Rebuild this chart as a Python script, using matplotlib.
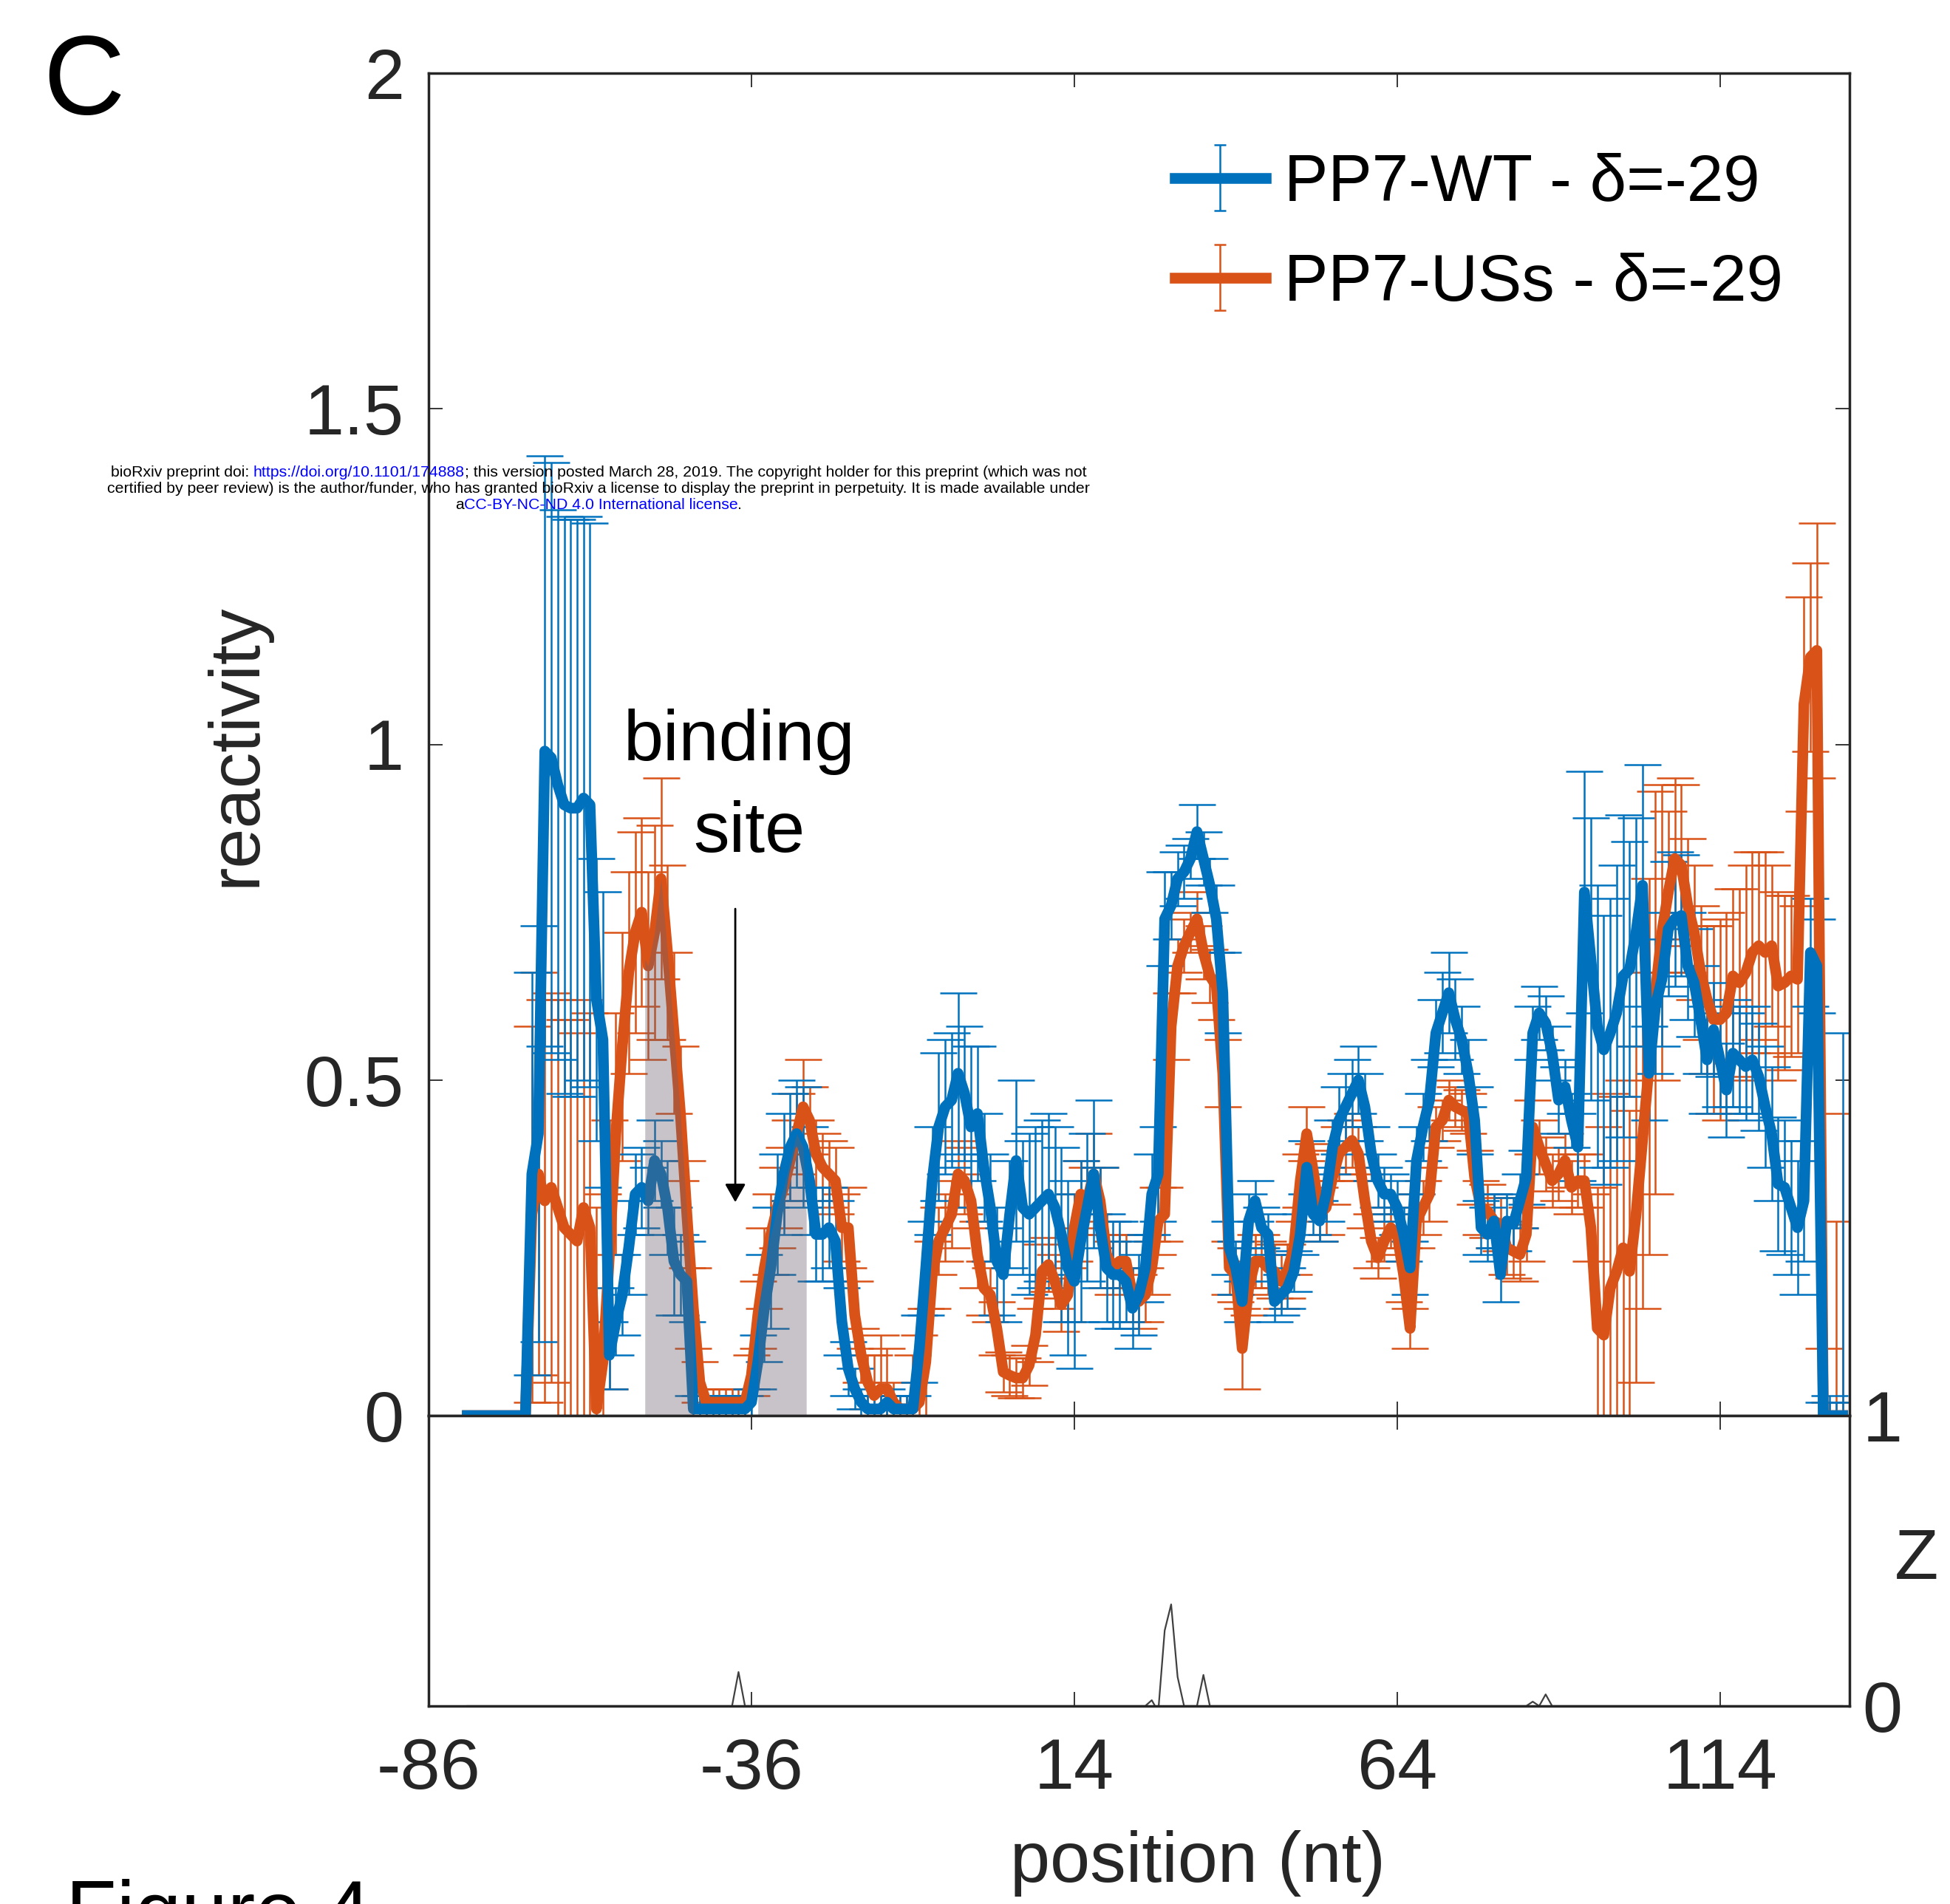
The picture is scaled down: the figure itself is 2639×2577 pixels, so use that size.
import numpy as np
import matplotlib
matplotlib.use("Agg")
import matplotlib.pyplot as plt
from matplotlib.container import ErrorbarContainer
from matplotlib.lines import Line2D
from matplotlib.collections import LineCollection

plt.rcParams['font.family'] = ['Liberation Sans', 'DejaVu Sans']
plt.rcParams['axes.unicode_minus'] = False

# nucleotide positions (-80 .. 133)
position = np.arange(-80, 134)

wt_react = [
    0, 0, 0, 0, 0, 0, 0, 0, 0, 0,
    0.36, 0.42, 0.99, 0.98, 0.94, 0.91, 0.905, 0.905, 0.92, 0.91,
    0.62, 0.56, 0.09, 0.14, 0.18, 0.25, 0.33, 0.34, 0.32, 0.38,
    0.36, 0.31, 0.23, 0.21, 0.20, 0.01, 0.01, 0.01, 0.01, 0.01,
    0.01, 0.01, 0.01, 0.01, 0.02, 0.08, 0.16, 0.22, 0.30, 0.36,
    0.40, 0.42, 0.40, 0.35, 0.27, 0.27, 0.28, 0.26, 0.14, 0.07,
    0.04, 0.02, 0.01, 0.01, 0.01, 0.02, 0.01, 0.01, 0.01, 0.01,
    0.10, 0.22, 0.35, 0.43, 0.46, 0.47, 0.51, 0.48, 0.43, 0.45,
    0.37, 0.31, 0.23, 0.21, 0.30, 0.38, 0.31, 0.30, 0.31, 0.32,
    0.33, 0.31, 0.27, 0.22, 0.20, 0.26, 0.31, 0.36, 0.28, 0.22,
    0.21, 0.21, 0.20, 0.16, 0.18, 0.22, 0.33, 0.36, 0.74, 0.76,
    0.80, 0.81, 0.83, 0.87, 0.83, 0.79, 0.74, 0.63, 0.25, 0.22,
    0.17, 0.29, 0.32, 0.28, 0.27, 0.17, 0.18, 0.19, 0.215, 0.27,
    0.37, 0.30, 0.29, 0.33, 0.40, 0.44, 0.46, 0.48, 0.50, 0.46,
    0.39, 0.35, 0.33, 0.33, 0.31, 0.27, 0.22, 0.38, 0.43, 0.47,
    0.57, 0.60, 0.63, 0.59, 0.56, 0.51, 0.44, 0.28, 0.27, 0.29,
    0.21, 0.29, 0.285, 0.32, 0.355, 0.57, 0.60, 0.585, 0.54, 0.47,
    0.49, 0.44, 0.40, 0.78, 0.68, 0.58, 0.545, 0.57, 0.60, 0.655,
    0.665, 0.72, 0.79, 0.51, 0.61, 0.65, 0.725, 0.74, 0.745, 0.67,
    0.645, 0.59, 0.53, 0.575, 0.53, 0.485, 0.54, 0.53, 0.52, 0.53,
    0.505, 0.46, 0.42, 0.345, 0.34, 0.31, 0.28, 0.32, 0.69, 0.67,
    0, 0, 0, 0,
]

wt_err = [
    0, 0, 0, 0, 0, 0, 0, 0, 0, 0,
    0.30, 0.31, 0.44, 0.44, 0.41, 0.43, 0.43, 0.43, 0.42, 0.42,
    0.21, 0.22, 0.05, 0.05, 0.06, 0.07, 0.06, 0.06, 0.05, 0.06,
    0.05, 0.07, 0.08, 0.06, 0.06, 0.02, 0.02, 0.02, 0.02, 0.02,
    0.02, 0.02, 0.02, 0.02, 0.02, 0.04, 0.08, 0.09, 0.09, 0.09,
    0.08, 0.08, 0.09, 0.08, 0.07, 0.07, 0.06, 0.06, 0.05, 0.04,
    0.03, 0.02, 0.02, 0.02, 0.02, 0.02, 0.02, 0.02, 0.02, 0.02,
    0.05, 0.07, 0.08, 0.11, 0.10, 0.10, 0.12, 0.10, 0.12, 0.10,
    0.08, 0.08, 0.08, 0.07, 0.08, 0.12, 0.10, 0.12, 0.12, 0.12,
    0.12, 0.12, 0.13, 0.13, 0.13, 0.12, 0.11, 0.11, 0.09, 0.08,
    0.08, 0.08, 0.06, 0.06, 0.06, 0.05, 0.06, 0.07, 0.07, 0.05,
    0.04, 0.04, 0.03, 0.04, 0.04, 0.04, 0.05, 0.06, 0.04, 0.04,
    0.03, 0.04, 0.03, 0.03, 0.03, 0.03, 0.03, 0.03, 0.03, 0.03,
    0.04, 0.03, 0.03, 0.04, 0.04, 0.05, 0.05, 0.05, 0.05, 0.05,
    0.04, 0.04, 0.04, 0.03, 0.04, 0.04, 0.04, 0.05, 0.05, 0.06,
    0.05, 0.06, 0.06, 0.06, 0.05, 0.05, 0.05, 0.04, 0.04, 0.04,
    0.04, 0.04, 0.04, 0.04, 0.04, 0.04, 0.04, 0.04, 0.04, 0.05,
    0.04, 0.04, 0.05, 0.18, 0.21, 0.21, 0.20, 0.20, 0.22, 0.24,
    0.19, 0.17, 0.18, 0.07, 0.10, 0.10, 0.10, 0.10, 0.09, 0.08,
    0.08, 0.08, 0.08, 0.07, 0.07, 0.07, 0.08, 0.08, 0.08, 0.08,
    0.08, 0.09, 0.10, 0.10, 0.10, 0.10, 0.10, 0.09, 0.08, 0.07,
    0.02, 0.03, 0.02, 0.57,
]

uss_react = [
    0, 0, 0, 0, 0, 0, 0, 0, 0, 0,
    0.30, 0.36, 0.32, 0.34, 0.31, 0.28, 0.27, 0.26, 0.31, 0.28,
    0.01, 0.08, 0.24, 0.42, 0.55, 0.66, 0.72, 0.75, 0.67, 0.72,
    0.80, 0.69, 0.57, 0.45, 0.30, 0.16, 0.05, 0.02, 0.02, 0.02,
    0.02, 0.02, 0.02, 0.02, 0.06, 0.15, 0.22, 0.27, 0.31, 0.34,
    0.38, 0.42, 0.46, 0.44, 0.39, 0.37, 0.36, 0.35, 0.28, 0.28,
    0.15, 0.09, 0.05, 0.03, 0.04, 0.04, 0.02, 0.01, 0.01, 0.01,
    0.02, 0.08, 0.21, 0.26, 0.28, 0.30, 0.36, 0.35, 0.32, 0.24,
    0.19, 0.18, 0.13, 0.065, 0.06, 0.056, 0.056, 0.075, 0.12, 0.215,
    0.225, 0.20, 0.165, 0.18, 0.28, 0.33, 0.32, 0.36, 0.32, 0.24,
    0.22, 0.23, 0.23, 0.18, 0.17, 0.18, 0.22, 0.29, 0.30, 0.58,
    0.67, 0.70, 0.72, 0.74, 0.69, 0.655, 0.64, 0.51, 0.22, 0.21,
    0.10, 0.19, 0.23, 0.23, 0.22, 0.215, 0.20, 0.215, 0.25, 0.35,
    0.42, 0.365, 0.30, 0.31, 0.355, 0.39, 0.40, 0.41, 0.39, 0.32,
    0.26, 0.235, 0.26, 0.28, 0.27, 0.21, 0.13, 0.29, 0.31, 0.33,
    0.43, 0.44, 0.47, 0.46, 0.455, 0.45, 0.355, 0.31, 0.305, 0.29,
    0.285, 0.25, 0.245, 0.24, 0.27, 0.43, 0.40, 0.375, 0.35, 0.36,
    0.38, 0.34, 0.35, 0.35, 0.28, 0.13, 0.12, 0.19, 0.215, 0.25,
    0.215, 0.30, 0.41, 0.52, 0.63, 0.72, 0.78, 0.83, 0.82, 0.76,
    0.72, 0.66, 0.62, 0.59, 0.59, 0.60, 0.655, 0.645, 0.66, 0.69,
    0.70, 0.69, 0.70, 0.64, 0.645, 0.655, 0.65, 1.06, 1.13, 1.14,
    0, 0, 0, 0,
]

uss_err = [
    0, 0, 0, 0, 0, 0, 0, 0, 0, 0,
    0.28, 0.30, 0.30, 0.29, 0.31, 0.31, 0.32, 0.31, 0.31, 0.32,
    0.30, 0.25, 0.20, 0.18, 0.17, 0.15, 0.15, 0.14, 0.14, 0.16,
    0.15, 0.13, 0.12, 0.10, 0.08, 0.06, 0.03, 0.02, 0.02, 0.02,
    0.02, 0.02, 0.02, 0.02, 0.03, 0.05, 0.06, 0.06, 0.06, 0.06,
    0.06, 0.06, 0.07, 0.05, 0.05, 0.05, 0.05, 0.05, 0.05, 0.06,
    0.05, 0.04, 0.04, 0.06, 0.08, 0.06, 0.03, 0.02, 0.02, 0.08,
    0.10, 0.08, 0.05, 0.05, 0.05, 0.05, 0.05, 0.05, 0.04, 0.05,
    0.04, 0.04, 0.04, 0.03, 0.03, 0.03, 0.03, 0.03, 0.04, 0.04,
    0.04, 0.04, 0.04, 0.04, 0.05, 0.05, 0.05, 0.06, 0.05, 0.05,
    0.04, 0.04, 0.04, 0.04, 0.04, 0.04, 0.04, 0.05, 0.04, 0.05,
    0.04, 0.04, 0.03, 0.04, 0.04, 0.04, 0.05, 0.05, 0.04, 0.04,
    0.06, 0.04, 0.04, 0.04, 0.04, 0.04, 0.04, 0.04, 0.04, 0.04,
    0.04, 0.04, 0.04, 0.04, 0.04, 0.04, 0.04, 0.04, 0.04, 0.04,
    0.04, 0.03, 0.03, 0.03, 0.03, 0.04, 0.03, 0.04, 0.04, 0.04,
    0.03, 0.03, 0.03, 0.03, 0.03, 0.03, 0.04, 0.04, 0.04, 0.04,
    0.04, 0.04, 0.04, 0.04, 0.04, 0.04, 0.04, 0.04, 0.04, 0.04,
    0.04, 0.04, 0.04, 0.04, 0.05, 0.21, 0.31, 0.29, 0.26, 0.25,
    0.24, 0.25, 0.25, 0.28, 0.30, 0.22, 0.12, 0.12, 0.12, 0.10,
    0.10, 0.10, 0.11, 0.14, 0.15, 0.15, 0.13, 0.14, 0.16, 0.15,
    0.14, 0.15, 0.12, 0.14, 0.13, 0.12, 0.11, 0.16, 0.14, 0.19,
    0.10, 0.02, 0.29, 0.45,
]

# Z score: zero everywhere except these positions
z_pos = [-38, 26, 27, 28, 29, 30, 34, 85, 87]
z_val = [0.117, 0.02, -0.02, 0.26, 0.35, 0.10, 0.107, 0.015, 0.04]

# shaded binding-site regions
shade1_x = [-52.5, -52, -51, -50, -49, -48, -47, -46, -45]
shade1_top = [0.68, 0.67, 0.72, 0.80, 0.69, 0.57, 0.45, 0.30, 0.16]
shade2_x = [-35, -34, -33, -32, -31, -30, -29, -28, -27.5]
shade2_top = [0.15, 0.22, 0.27, 0.31, 0.34, 0.38, 0.42, 0.40, 0.30]

labels = ['PP7-WT - δ=-29', 'PP7-USs - δ=-29']
blue = '#0072BD'
orange = '#D95319'
dark = '#262626'
lw_data = 10.5

W, H = 2639, 2577
fig = plt.figure(figsize=(W / 100, H / 100), dpi=100)
ax = fig.add_axes([580 / W, 1 - 1916 / H, 1922.5 / W, 1817 / H])
axz = fig.add_axes([580 / W, 1 - 2309 / H, 1922.5 / W, 393 / H])

eb_kw = dict(fmt='none', elinewidth=1.8, capsize=18, capthick=1.8)
ax.errorbar(position, uss_react, yerr=uss_err, ecolor=orange, zorder=2, **eb_kw)
ax.errorbar(position, wt_react, yerr=wt_err, ecolor=blue, zorder=2.2, **eb_kw)
ax.plot(position, uss_react, color=orange, lw=lw_data, zorder=3, solid_joinstyle='round')
ax.plot(position, wt_react, color=blue, lw=lw_data, zorder=3.2, solid_joinstyle='round')

ax.fill_between(shade1_x, 0, shade1_top, color='#6b5e6b', alpha=0.37, lw=0, zorder=5)
ax.fill_between(shade2_x, 0, shade2_top, color='#6b5e6b', alpha=0.37, lw=0, zorder=5)

ax.annotate('', xy=(-38.5, 0.318), xytext=(-38.5, 0.755),
            arrowprops=dict(arrowstyle='-|>,head_length=1.5,head_width=0.85',
                            lw=2, color='black', shrinkA=0, shrinkB=0), zorder=6)
ax.text(-37.9, 0.976, 'binding', fontsize=70, ha='center', va='baseline', zorder=6)
ax.text(-36.3, 0.840, 'site', fontsize=70, ha='center', va='baseline', zorder=6)

ax.set_xlim(-86, 134)
ax.set_ylim(0, 2)
ax.set_xticks([-86, -36, 14, 64, 114])
ax.set_yticks([0, 0.5, 1, 1.5, 2])
ax.set_yticklabels(['0', '0.5', '1', '1.5', '2'])
ax.tick_params(direction='in', length=14, width=1.3, colors=dark, labelsize=70,
               top=True, right=True, labelbottom=False)
ax.tick_params(axis='y', pad=24)

full_z = np.zeros(len(position))
for p, v in zip(z_pos, z_val):
    full_z[p - position[0]] = v
axz.plot(position, full_z, color='#404040', lw=1.6)
axz.set_xlim(-86, 134)
axz.set_ylim(0, 1)
axz.set_xticks([-86, -36, 14, 64, 114])
axz.set_yticks([0, 1])
axz.set_yticklabels(['0', '1'])
axz.tick_params(direction='in', length=14, width=1.3, colors=dark, labelsize=70,
                top=True, right=True, left=True, labelleft=False, labelright=True)
axz.tick_params(axis='x', pad=30)
axz.tick_params(axis='y', pad=13)

for a in (ax, axz):
    for s in a.spines.values():
        s.set_linewidth(2.5)
        s.set_color(dark)


def proxy(color):
    ln = Line2D([], [], color=color, lw=lw_data)
    cap = Line2D([], [], color=color, marker='_', ms=12, mew=1.8, ls='none')
    bars = LineCollection([], colors=color, linewidths=1.8)
    return ErrorbarContainer((ln, (cap, cap), (bars,)), has_xerr=False, has_yerr=True)


leg = ax.legend([proxy(blue), proxy(orange)], labels, loc='upper left',
                bbox_to_anchor=(1590 / W, 1 - 207 / H), bbox_transform=fig.transFigure,
                frameon=False, fontsize=64, borderpad=0, borderaxespad=0,
                handlelength=1.38, handletextpad=0.28, labelspacing=0.57)

fig.text(320 / W, 1 - 1008 / H, 'reactivity', fontsize=70, rotation=90,
         ha='center', va='center', color=dark)
fig.text(1621 / W, 1 - 2522 / H, 'position (nt)', fontsize=70,
         ha='center', va='center', color=dark)
fig.text(2594 / W, 1 - 2112 / H, 'Z', fontsize=70, ha='center', va='center', color=dark)
fig.text(58 / W, 1 - 155 / H, 'C', fontsize=110, va='baseline', ha='left')
fig.text(89 / W, 1 - 2625 / H, 'Figure 4', fontsize=81, va='baseline', ha='left')

# preprint watermark
renderer = fig.canvas.get_renderer()


def text_width(s, fs):
    t = fig.text(0, 0, s, fontsize=fs)
    w = t.get_window_extent(renderer).width
    t.remove()
    return w


wm_lines = [
    [('bioRxiv preprint doi: ', 'black'), ('https://doi.org/10.1101/174888', '#0000FF'),
     ('; this version posted March 28, 2019. The copyright holder for this preprint (which was not', 'black')],
    [('certified by peer review) is the author/funder, who has granted bioRxiv a license to display the preprint in perpetuity. It is made available under', 'black')],
    [('a', 'black'), ('CC-BY-NC-ND 4.0 International license', '#0000FF'), ('.', 'black')],
]
wm_base = [645, 667, 689]
wm_fs = 10 * 1338 / text_width(wm_lines[1][0][0], 10)
bar_w = text_width('|', wm_fs)
for pieces, base in zip(wm_lines, wm_base):
    full = ''.join(s for s, c in pieces)
    x0 = 810 - text_width(full, wm_fs) / 2
    prefix = ''
    for s, c in pieces:
        off = text_width(prefix + '|', wm_fs) - bar_w if prefix else 0
        fig.text((x0 + off) / W, 1 - base / H, s, fontsize=wm_fs, color=c,
                 ha='left', va='baseline', zorder=10)
        prefix += s

fig.savefig('out.png', dpi=100)
